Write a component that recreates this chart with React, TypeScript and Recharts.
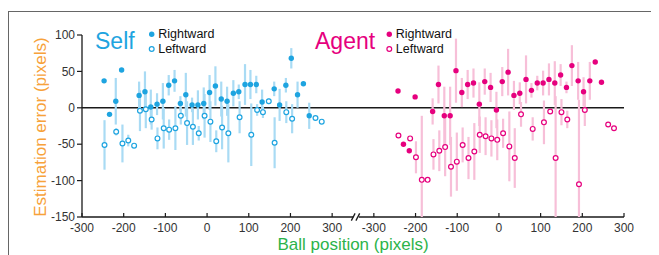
import React from "react";
import { ScatterChart, Scatter, XAxis, YAxis, ErrorBar, ReferenceLine } from "recharts";

// Self panel
const selfRightX = [-247, -234, -219, -205, -163, -149, -135, -120, -106, -92, -78, -64, -51, -36, -22, -8, 6, 20, 34, 48, 63, 76, 91, 104, 118, 132, 161, 174, 189, 202, 217, 231, 245];
const selfRightY = [37, -9, 9, 52, 17, 22, 1, 5, 9, 31, 37, 6, 18, 4, 4, 6, 21, 30, 12, 9, 20, 22, 32, 32, 32, 8, 26, 4, 31, 68, 18, 33, -11];
const selfRightErr = [0, 0, 32, 0, 19, 28, 24, 15, 25, 14, 15, 10, 30, 10, 20, 22, 24, 27, 24, 20, 18, 10, 28, 20, 12, 17, 10, 22, 10, 14, 18, 0, 18];

const selfLeftX = [-246, -218, -203, -189, -175, -161, -147, -133, -119, -104, -91, -76, -63, -48, -34, -20, -6, 8, 22, 36, 51, 78, 106, 120, 134, 148, 162, 190, 204, 260, 275];
const selfLeftY = [-51, -33, -49, -45, -52, -4, -2, -16, -42, -28, -30, -28, -11, -21, -26, -35, -11, -19, -46, -27, -35, -13, -37, -3, -6, 9, -48, -6, -15, -14, -19];
const selfLeftErr = [34, 5, 26, 8, 0, 28, 26, 14, 15, 28, 14, 30, 12, 30, 25, 10, 30, 28, 15, 30, 40, 22, 43, 8, 8, 4, 35, 15, 20, 0, 0];

// Agent panel
const agentRightX = [-242, -229, -215, -201, -159, -145, -131, -117, -103, -89, -75, -61, -47, -34, -20, -6, 8, 22, 36, 50, 65, 78, 92, 106, 120, 134, 148, 162, 175, 190, 203, 218, 231, 246];
const agentRightY = [23, -50, -59, 15, -5, 32, -11, -11, 51, 21, 32, 34, 5, 36, 28, -3, 36, 49, 17, 20, 39, 24, 34, 34, 39, 34, 45, 28, 58, 37, 22, 37, 63, 35];
const agentRightErr = [0, 0, 0, 0, 18, 26, 40, 40, 44, 20, 20, 20, 30, 18, 20, 25, 20, 32, 20, 15, 33, 10, 10, 17, 22, 30, 15, 8, 28, 26, 20, 26, 0, 0];

const agentLeftX = [-241, -213, -199, -185, -171, -157, -143, -129, -115, -101, -87, -73, -59, -46, -32, -18, -4, 10, 25, 38, 53, 81, 108, 123, 136, 150, 164, 192, 206, 262, 276];
const agentLeftY = [-38, -42, -68, -99, -99, -64, -59, -54, -81, -74, -51, -69, -60, -37, -39, -42, -44, -35, -53, -69, -9, -29, -20, -5, -69, -6, -16, -105, -3, -23, -28];
const agentLeftErr = [0, 0, 22, 88, 0, 21, 28, 40, 41, 40, 24, 29, 39, 25, 26, 25, 28, 20, 48, 41, 17, 16, 30, 0, 85, 18, 12, 116, 22, 0, 0];

const yTicks = [-150, -100, -50, 0, 50, 100];
const panelTicks = [-300, -200, -100, 0, 100, 200, 300];
const panelOffset = 700; // agent panel sits 700 units right on the shared axis
const mainTicks = [...panelTicks, ...panelTicks.map((t) => t + panelOffset)];
const Y_MIN = -150;

const BLUE = "#1ea4e0";
const BLUE_BAR = "#a9dbf4";
const PINK = "#e6007e";
const PINK_BAR = "#f7bfd8";
const AXIS = "#1a1a1a";
const FONT = "'Liberation Sans', Arial, Helvetica, sans-serif";

// bars stop at the bottom of the plot, like the original
const toRows = (xs: number[], ys: number[], es: number[]) =>
  xs.map((x, i) => ({ x, y: ys[i], bounds: [Math.min(es[i], ys[i] - Y_MIN), es[i]] }));

const selfRight = toRows(selfRightX, selfRightY, selfRightErr);
const selfLeft = toRows(selfLeftX, selfLeftY, selfLeftErr);
const agentRight = toRows(agentRightX, agentRightY, agentRightErr);
const agentLeft = toRows(agentLeftX, agentLeftY, agentLeftErr);

const dot = (color: string) => (p: any) => <circle cx={p.cx} cy={p.cy} r={2.7} fill={color} />;
const ring = (color: string) => (p: any) => (
  <circle cx={p.cx} cy={p.cy} r={2.4} fill="#fff" stroke={color} strokeWidth={1.2} />
);
const nothing = () => <g />;

// x ticks point inward, label below
const XTick = (props: any) => {
  const { x, y, payload } = props;
  const v = payload.value > 350 ? payload.value - panelOffset : payload.value;
  return (
    <g>
      <line x1={x} x2={x} y1={y} y2={y - 4} stroke={AXIS} strokeWidth={1.2} />
      <text x={x} y={y + 15} textAnchor="middle" fontSize={12} fill="#333" fontFamily={FONT}>
        {v}
      </text>
    </g>
  );
};

const Legend = ({ x, color }: { x: number; color: string }) => (
  <g>
    <circle cx={x} cy={26.3} r={2.7} fill={color} />
    <text x={x + 6.5} y={30.3} fontSize={12.5} fill="#111">Rightward</text>
    <circle cx={x} cy={41} r={2.4} fill="#fff" stroke={color} strokeWidth={1.2} />
    <text x={x + 6.5} y={45.3} fontSize={12.5} fill="#111">Leftward</text>
  </g>
);

export default function App() {
  return (
    <div style={{ position: "relative", width: 651, height: 247, fontFamily: FONT }}>
      <div
        style={{
          position: "absolute",
          left: 0,
          top: 3,
          width: 651,
          height: 244,
          borderTop: "1.3px solid #666",
          borderLeft: "1.3px solid #666",
          boxSizing: "border-box",
        }}
      />
      <div style={{ position: "absolute", left: 0, top: 0 }}>
        <ScatterChart width={651} height={247} margin={{ top: 27, right: 35, bottom: 8, left: 0 }}>
          <XAxis
            xAxisId="main"
            type="number"
            dataKey="x"
            domain={[-300, 1000]}
            allowDataOverflow
            ticks={mainTicks}
            interval={0}
            axisLine={false}
            tickLine={false}
            tickSize={0}
            tickMargin={0}
            height={30}
            tick={<XTick />}
          />
          <XAxis
            xAxisId="agent"
            type="number"
            dataKey="x"
            domain={[-1000, 300]}
            allowDataOverflow
            orientation="top"
            height={0}
            hide
          />
          <YAxis
            type="number"
            dataKey="y"
            domain={[Y_MIN, 100]}
            allowDataOverflow
            ticks={yTicks}
            interval={0}
            width={74}
            axisLine={{ stroke: AXIS, strokeWidth: 1.3 }}
            tickLine={{ stroke: AXIS, strokeWidth: 1.2 }}
            tickSize={5}
            tickMargin={2}
            tick={{ fill: "#333", fontSize: 12, fontFamily: FONT }}
          />
          <ReferenceLine xAxisId="main" y={0} stroke={AXIS} strokeWidth={1.5} ifOverflow="visible" />
          {/* x axis with a break between the panels */}
          <ReferenceLine xAxisId="main" segment={[{ x: -300, y: Y_MIN }, { x: 351, y: Y_MIN }]} stroke={AXIS} strokeWidth={1.3} ifOverflow="visible" />
          <ReferenceLine xAxisId="main" segment={[{ x: 364, y: Y_MIN }, { x: 1000, y: Y_MIN }]} stroke={AXIS} strokeWidth={1.3} ifOverflow="visible" />
          <ReferenceLine xAxisId="main" segment={[{ x: 346, y: -155 }, { x: 355, y: -145 }]} stroke={AXIS} strokeWidth={1.3} ifOverflow="visible" />
          <ReferenceLine xAxisId="main" segment={[{ x: 357, y: -155 }, { x: 366, y: -145 }]} stroke={AXIS} strokeWidth={1.3} ifOverflow="visible" />

          {/* error bars first so the markers sit on top */}
          <Scatter xAxisId="main" data={selfLeft} shape={nothing} isAnimationActive={false}>
            <ErrorBar dataKey="bounds" direction="y" width={0} stroke={BLUE_BAR} strokeWidth={2.2} isAnimationActive={false} />
          </Scatter>
          <Scatter xAxisId="main" data={selfRight} shape={nothing} isAnimationActive={false}>
            <ErrorBar dataKey="bounds" direction="y" width={0} stroke={BLUE_BAR} strokeWidth={2.2} isAnimationActive={false} />
          </Scatter>
          <Scatter xAxisId="agent" data={agentLeft} shape={nothing} isAnimationActive={false}>
            <ErrorBar dataKey="bounds" direction="y" width={0} stroke={PINK_BAR} strokeWidth={2.2} isAnimationActive={false} />
          </Scatter>
          <Scatter xAxisId="agent" data={agentRight} shape={nothing} isAnimationActive={false}>
            <ErrorBar dataKey="bounds" direction="y" width={0} stroke={PINK_BAR} strokeWidth={2.2} isAnimationActive={false} />
          </Scatter>

          <Scatter xAxisId="main" data={selfLeft} shape={ring(BLUE)} isAnimationActive={false} />
          <Scatter xAxisId="main" data={selfRight} shape={dot(BLUE)} isAnimationActive={false} />
          <Scatter xAxisId="agent" data={agentLeft} shape={ring(PINK)} isAnimationActive={false} />
          <Scatter xAxisId="agent" data={agentRight} shape={dot(PINK)} isAnimationActive={false} />
        </ScatterChart>
      </div>
      <svg
        width={651}
        height={247}
        style={{ position: "absolute", left: 0, top: 0, pointerEvents: "none", fontFamily: FONT }}
      >
        <text x={87} y={41.3} fontSize={23} fill={BLUE}>Self</text>
        <Legend x={143.7} color={BLUE} />
        <text x={307} y={41.3} fontSize={23} fill={PINK}>Agent</text>
        <Legend x={381.3} color={PINK} />
        <text x={38} y={119} fontSize={17} fill="#f7a23a" textAnchor="middle" transform="rotate(-90 38 119)">
          Estimation error (pixels)
        </text>
        <text x={345} y={241.7} fontSize={17} fill="#2cb34a" textAnchor="middle">
          Ball position (pixels)
        </text>
      </svg>
    </div>
  );
}
